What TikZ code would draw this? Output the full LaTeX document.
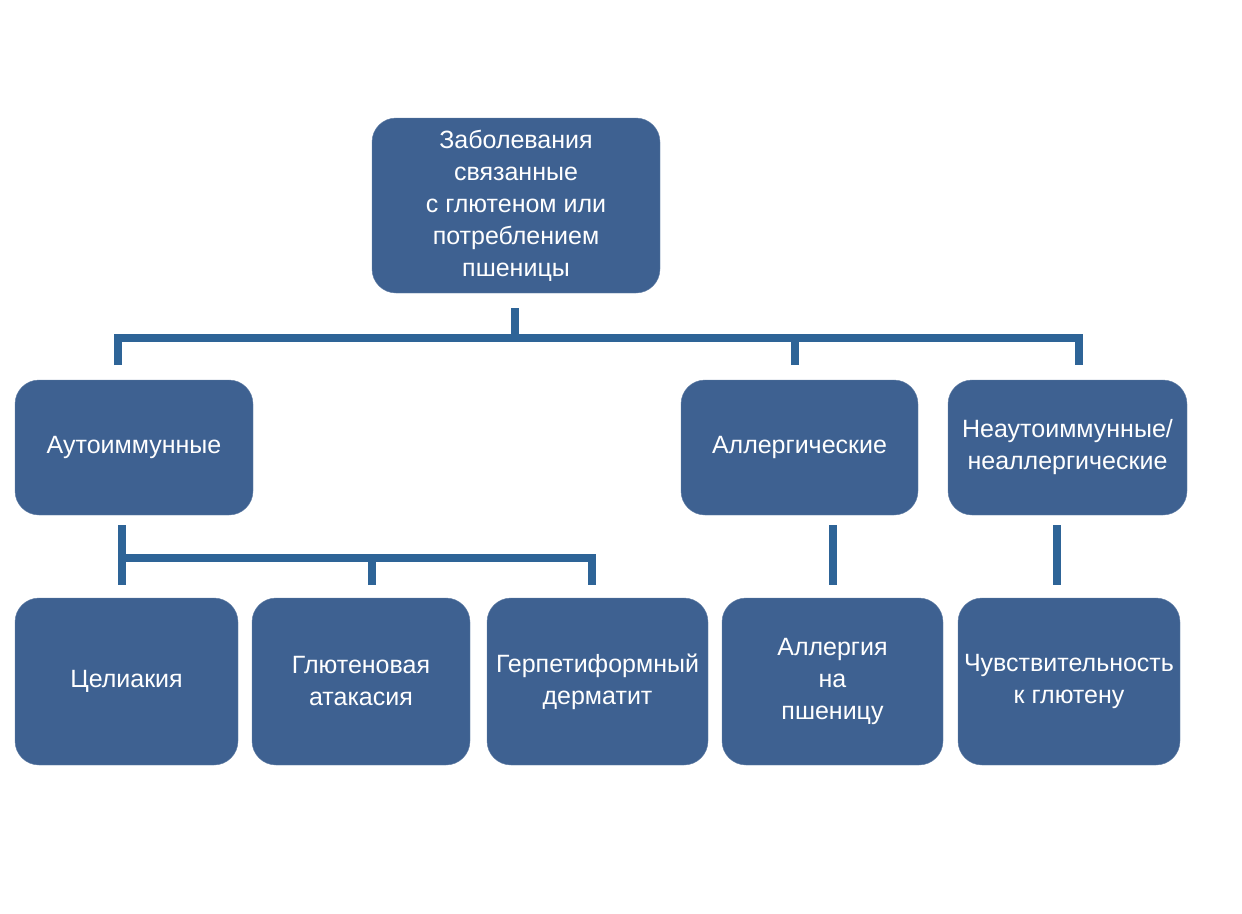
\documentclass[tikz,border=0pt]{standalone}
\usepackage{fontspec}
\setmainfont{Liberation Sans}
\usepackage{tikz}
\definecolor{boxblue}{HTML}{3E6191}
\definecolor{lineblue}{HTML}{2E6497}
\tikzstyle{dis_n} = [rectangle, rounded corners=24pt, fill=boxblue, draw=boxblue!80!white, text=white, align=center, inner sep=0pt, font=\fontsize{25}{32}\selectfont]
\tikzstyle{dis_l} = [line width=7.5pt, draw=lineblue]

\begin{document}
\begin{tikzpicture}[x=1pt,y=-1pt]
\useasboundingbox (0,0) rectangle (1242,913);
% main box
\node [dis_n, minimum width=288pt, minimum height=175pt] (top) at (516,205.5) {Заболевания\\связанные\\с глютеном или\\потреблением\\пшеницы};
% second row
\node [dis_n, minimum width=238pt, minimum height=135pt] (aut) at (134,447.5) {Аутоиммунные};
\node [dis_n, minimum width=237pt, minimum height=135pt] (all) at (799.5,447.5) {Аллергические};
\node [dis_n, minimum width=239pt, minimum height=135pt] (non) at (1067.5,447.5) {Неаутоиммунные/\\неаллергические};
% third row
\node [dis_n, minimum width=223pt, minimum height=167pt] (cel) at (126.5,681.5) {Целиакия};
\node [dis_n, minimum width=218pt, minimum height=167pt] (atx) at (361,681.5) {Глютеновая\\атакасия};
\node [dis_n, minimum width=221pt, minimum height=167pt] (derm) at (597.5,681.5) {Герпетиформный\\дерматит};
\node [dis_n, minimum width=221pt, minimum height=167pt] (wal) at (832.5,681.5) {Аллергия\\на\\пшеницу};
\node [dis_n, minimum width=222pt, minimum height=167pt] (sens) at (1069,681.5) {Чувствительность\\к глютену};

% connector ends
\coordinate (top_s) at (515,308);
\coordinate (top_b) at (515,338);
\coordinate (aut_n) at (118,365);
\coordinate (all_n) at (795,365);
\coordinate (non_n) at (1079,365);
\coordinate (aut_s) at (122,525);
\coordinate (aut_b) at (122,558);
\coordinate (cel_n) at (122,585);
\coordinate (atx_n) at (372,585);
\coordinate (derm_n) at (592,585);
\coordinate (all_s) at (833,525);
\coordinate (wal_n) at (833,585);
\coordinate (non_s) at (1057,525);
\coordinate (sens_n) at (1057,585);

\draw [dis_l] (top_s) -- (top_b);
\draw [dis_l] (aut_n) |- (top_b) -| (non_n);
\draw [dis_l] (all_n) -- (all_n |- top_b);
\draw [dis_l] (aut_s) -- (cel_n);
\draw [dis_l] (aut_b) -| (derm_n);
\draw [dis_l] (atx_n) -- (atx_n |- aut_b);
\draw [dis_l] (all_s) -- (wal_n);
\draw [dis_l] (non_s) -- (sens_n);
\end{tikzpicture}
\end{document}
